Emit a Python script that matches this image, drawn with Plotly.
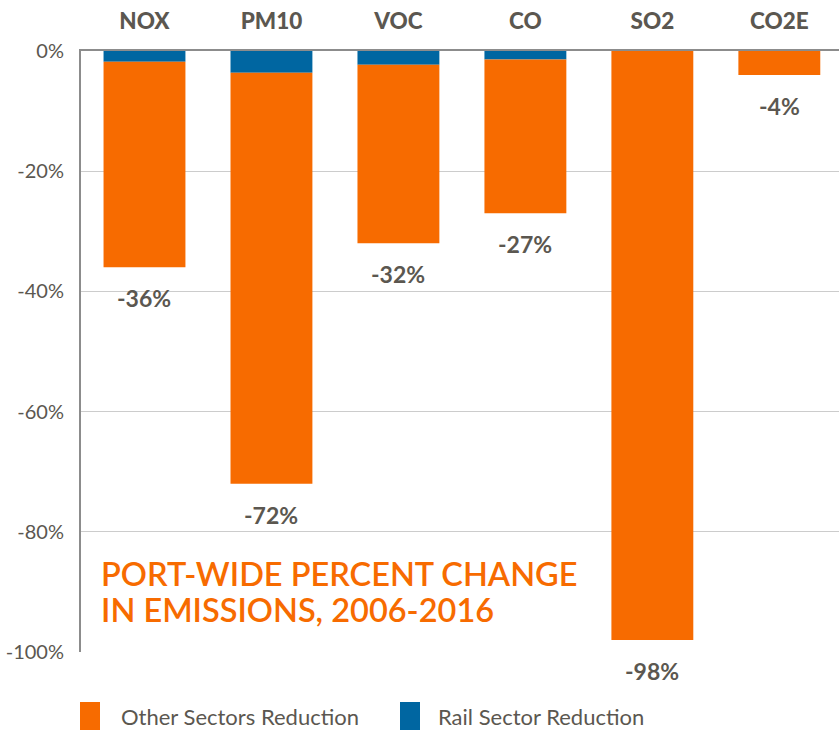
import plotly.graph_objects as go

categories = ["NOX", "PM10", "VOC", "CO", "SO2", "CO2E"]
rail_reduction = [-1.8, -3.6, -2.3, -1.4, 0.0, 0.0]
other_reduction = [-34.2, -68.4, -29.7, -25.6, -98.0, -4.0]
total_change = [-36, -72, -32, -27, -98, -4]
y_tick_vals = [0, -20, -40, -60, -80, -100]
y_tick_text = ["0%", "-20%", "-40%", "-60%", "-80%", "-100%"]
series_names = ["Other Sectors Reduction", "Rail Sector Reduction"]
title_lines = ["PORT-WIDE PERCENT CHANGE", "IN EMISSIONS, 2006-2016"]

ORANGE = "#F76B00"
BLUE = "#0066A1"
GRAY = "#5B5750"
FONT = "Lato"

W, H = 839, 732
L, R, T, B = 81, 0, 51, 80
pw, ph = W - L - R, H - T - B


def px_x(px):
    return (px - L) / pw


def px_y(py):
    return (H - B - py) / ph


fig = go.Figure()
fig.add_trace(go.Bar(x=categories, y=rail_reduction, name=series_names[1],
                     marker=dict(color=BLUE, line=dict(width=0)), showlegend=False))
fig.add_trace(go.Bar(x=categories, y=other_reduction, name=series_names[0],
                     marker=dict(color=ORANGE, line=dict(width=0)), showlegend=False))

annotations = []
for c, t in zip(categories, total_change):
    annotations.append(dict(x=c, y=t, xref="x", yref="y", text=f"<b>{t}%</b>",
                            showarrow=False, yshift=-31, yanchor="middle",
                            font=dict(family=FONT, size=23, color=GRAY, weight=900)))

for line, py in zip(title_lines, [573, 609]):
    annotations.append(dict(xref="paper", yref="paper", x=px_x(99), y=px_y(py),
                            xanchor="left", yanchor="middle", align="left",
                            text=line, showarrow=False,
                            font=dict(family=FONT, size=32.5, color=ORANGE, weight=600)))

# legend
shapes = []
legend_items = [(series_names[0], ORANGE, 80, 119), (series_names[1], BLUE, 400, 436)]
for name, col, sx, tx in legend_items:
    shapes.append(dict(type="rect", xref="paper", yref="paper",
                       x0=px_x(sx), x1=px_x(sx + 20), y0=px_y(730), y1=px_y(702),
                       fillcolor=col, line=dict(width=0)))
    annotations.append(dict(xref="paper", yref="paper", x=px_x(tx), y=px_y(716),
                            xanchor="left", yanchor="middle", text=name, showarrow=False,
                            font=dict(family=FONT, size=22, color=GRAY)))

fig.update_layout(
    width=W, height=H,
    margin=dict(l=L, r=R, t=T, b=B, pad=0),
    barmode="relative",
    bargap=0.355,
    paper_bgcolor="white", plot_bgcolor="white",
    showlegend=False,
    annotations=annotations,
    shapes=shapes,
    xaxis=dict(side="top", range=[-0.5, 5.47], showgrid=False,
               showline=True, linecolor="#8C8C8C", linewidth=2,
               ticks="", tickfont=dict(family=FONT, size=22.5, color=GRAY, weight=900),
               ticklabelstandoff=11, zeroline=False),
    yaxis=dict(range=[-100, 0], tickvals=y_tick_vals, ticktext=y_tick_text,
               showgrid=True, gridcolor="#CCCCCC", gridwidth=1,
               showline=True, linecolor="#8C8C8C", linewidth=2,
               zeroline=False, ticks="", ticklabelstandoff=11,
               tickfont=dict(family=FONT, size=20, color=GRAY)),
)

fig.write_html("out.html", config={"displayModeBar": False},
               post_script="document.body.style.margin='0';document.body.style.overflow='hidden';")
